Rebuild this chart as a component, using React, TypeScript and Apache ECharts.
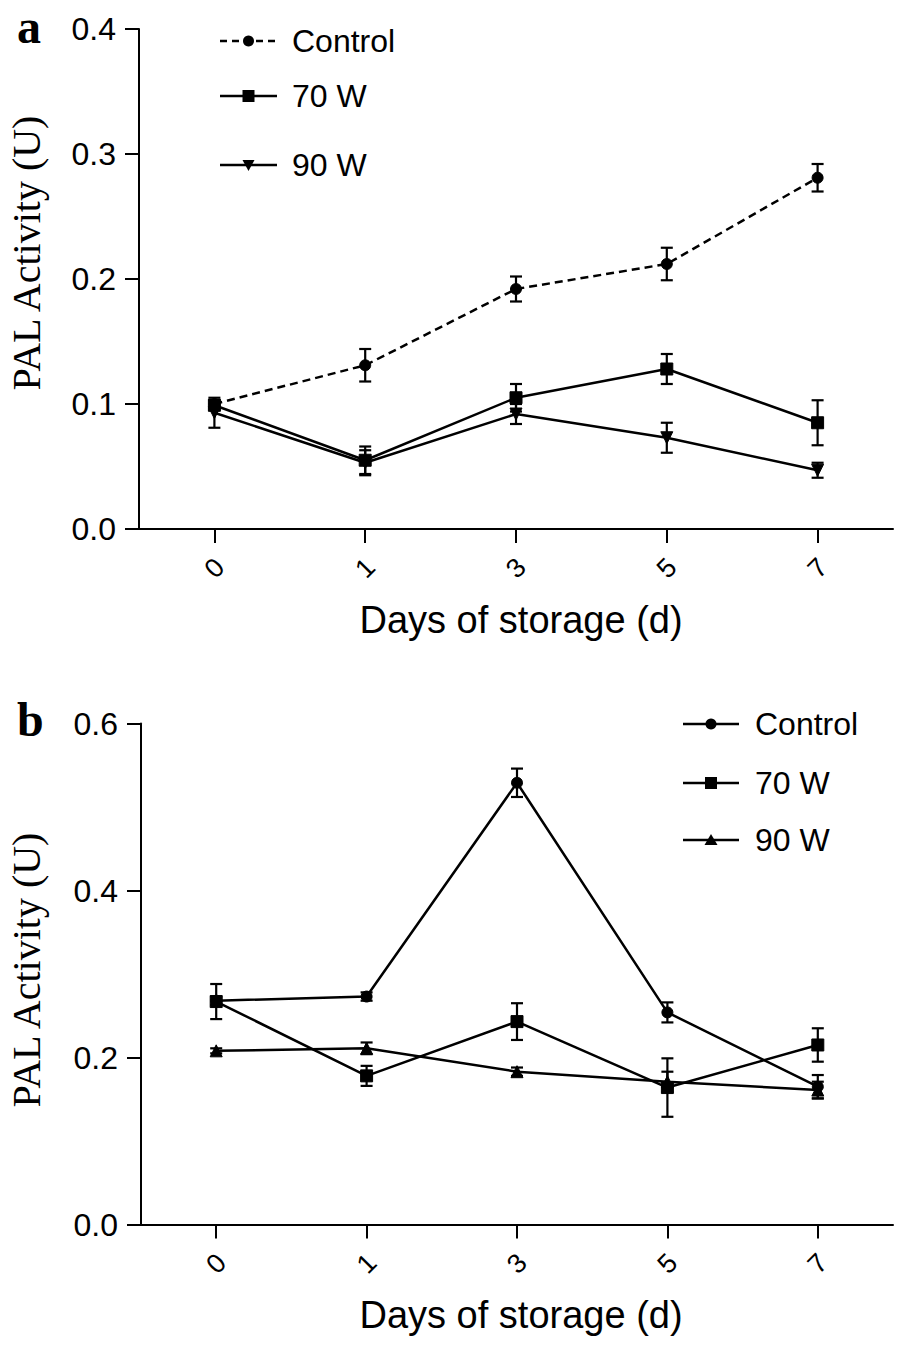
import React, { useEffect, useRef } from "react";
import * as echarts from "echarts";

const days = ["0", "1", "3", "5", "7"];

// Panel a
const controlA = [0.1, 0.131, 0.192, 0.212, 0.281];
const controlAErr = [0.003, 0.013, 0.01, 0.013, 0.011];
const w70A = [0.099, 0.055, 0.105, 0.128, 0.085];
const w70AErr = [0.004, 0.011, 0.011, 0.012, 0.018];
const w90A = [0.093, 0.053, 0.092, 0.073, 0.047];
const w90AErr = [0.012, 0.01, 0.008, 0.012, 0.006];
const yTicksA = { min: 0, max: 0.4, interval: 0.1 };

// Panel b
const controlB = [0.268, 0.273, 0.529, 0.254, 0.165];
const controlBErr = [0.005, 0.005, 0.017, 0.012, 0.014];
const w70B = [0.267, 0.178, 0.243, 0.164, 0.215];
const w70BErr = [0.021, 0.012, 0.022, 0.035, 0.02];
const w90B = [0.208, 0.211, 0.183, 0.171, 0.161];
const w90BErr = [0.003, 0.007, 0.005, 0.012, 0.01];
const yTicksB = { min: 0, max: 0.6, interval: 0.2 };

const SANS = "'Liberation Sans', Arial, Helvetica, sans-serif";
const SERIF = "'Liberation Serif', 'Times New Roman', serif";
const TICK = "'Liberation Sans Narrow', 'Liberation Sans', Arial, sans-serif";
const BLACK = "#000";

function errData(vals: number[], errs: number[]) {
  return vals.map((v, i) => [i, v - errs[i], v + errs[i]]);
}

function errSeries(name: string, vals: number[], errs: number[]) {
  return {
    type: "custom",
    name: name + " err",
    data: errData(vals, errs),
    encode: { x: 0, y: [1, 2] },
    z: 3,
    renderItem: (params: any, api: any) => {
      const x = api.value(0);
      const top = api.coord([x, api.value(2)]);
      const bot = api.coord([x, api.value(1)]);
      const w = 6;
      const st = { stroke: BLACK, lineWidth: 2.2 };
      return {
        type: "group",
        children: [
          { type: "line", shape: { x1: top[0], y1: top[1], x2: bot[0], y2: bot[1] }, style: st },
          { type: "line", shape: { x1: top[0] - w, y1: top[1], x2: top[0] + w, y2: top[1] }, style: st },
          { type: "line", shape: { x1: bot[0] - w, y1: bot[1], x2: bot[0] + w, y2: bot[1] }, style: st },
        ],
      };
    },
  };
}

function lineSeries(name: string, vals: number[], symbol: string, size: number, dashed: boolean, rotate = 0) {
  return {
    type: "line",
    name,
    data: vals,
    symbol,
    symbolSize: size,
    symbolRotate: rotate,
    showSymbol: true,
    z: 4,
    lineStyle: { color: BLACK, width: 2.5, type: dashed ? [8, 5] : "solid" },
    itemStyle: { color: BLACK, borderColor: BLACK },
  };
}

function legendItems(
  rows: { name: string; y: number; dashed: boolean; shape: string }[],
  x1: number,
  x2: number,
  tx: number
) {
  const out: any[] = [];
  const mx = (x1 + x2) / 2;
  rows.forEach((r) => {
    out.push({
      type: "line",
      shape: { x1, y1: r.y, x2, y2: r.y },
      style: { stroke: BLACK, lineWidth: 2.5, lineDash: r.dashed ? [7, 5] : null },
    });
    if (r.shape === "circle") {
      out.push({ type: "circle", shape: { cx: mx, cy: r.y, r: 5.5 }, style: { fill: BLACK } });
    } else if (r.shape === "rect") {
      out.push({ type: "rect", shape: { x: mx - 6, y: r.y - 6, width: 12, height: 12 }, style: { fill: BLACK } });
    } else if (r.shape === "tridown") {
      out.push({
        type: "polygon",
        shape: { points: [[mx - 6, r.y - 5], [mx + 6, r.y - 5], [mx, r.y + 6]] },
        style: { fill: BLACK },
      });
    } else {
      out.push({
        type: "polygon",
        shape: { points: [[mx - 6.5, r.y + 5], [mx + 6.5, r.y + 5], [mx, r.y - 6]] },
        style: { fill: BLACK },
      });
    }
    out.push({
      type: "text",
      x: tx,
      y: r.y,
      style: {
        text: r.name,
        fill: BLACK,
        font: `32px ${SANS}`,
        textAlign: "left",
        textVerticalAlign: "middle",
      },
    });
  });
  return out;
}

function makeOption(cfg: {
  grid: any;
  yt: { min: number; max: number; interval: number };
  series: any[];
  panel: string;
  panelY: number;
  yTitleY: number;
  xTitleY: number;
  legend: any[];
}) {
  return {
    animation: false,
    backgroundColor: "#fff",
    grid: cfg.grid,
    xAxis: {
      type: "category",
      data: days,
      boundaryGap: true,
      axisLine: { show: true, lineStyle: { color: BLACK, width: 2 } },
      axisTick: { show: true, alignWithLabel: true, length: 14, lineStyle: { color: BLACK, width: 2 } },
      axisLabel: {
        rotate: 45,
        align: "center",
        verticalAlign: "middle",
        margin: 39,
        color: BLACK,
        fontSize: 27,
        fontFamily: TICK,
      },
      splitLine: { show: false },
    },
    yAxis: {
      type: "value",
      min: cfg.yt.min,
      max: cfg.yt.max,
      interval: cfg.yt.interval,
      axisLine: { show: true, lineStyle: { color: BLACK, width: 2 } },
      axisTick: { show: true, length: 14, lineStyle: { color: BLACK, width: 2 } },
      axisLabel: {
        margin: 23,
        color: BLACK,
        fontSize: 32,
        fontFamily: SANS,
        formatter: (v: number) => v.toFixed(1),
      },
      splitLine: { show: false },
    },
    graphic: [
      {
        type: "text",
        x: 17,
        y: cfg.panelY,
        style: {
          text: cfg.panel,
          fill: BLACK,
          font: `bold 48px ${SERIF}`,
          textAlign: "left",
          textVerticalAlign: "middle",
        },
      },
      {
        type: "text",
        x: 26,
        y: cfg.yTitleY,
        rotation: Math.PI / 2,
        style: {
          text: "PAL Activity (U)",
          fill: BLACK,
          font: `40px ${SERIF}`,
          textAlign: "center",
          textVerticalAlign: "middle",
        },
      },
      {
        type: "text",
        x: 521,
        y: cfg.xTitleY,
        style: {
          text: "Days of storage (d)",
          fill: BLACK,
          font: `38px ${SANS}`,
          textAlign: "center",
          textVerticalAlign: "middle",
        },
      },
      ...cfg.legend,
    ],
    series: cfg.series,
  };
}

export default function App() {
  const refA = useRef<HTMLDivElement>(null);
  const refB = useRef<HTMLDivElement>(null);

  useEffect(() => {
    const chartA = echarts.init(refA.current!, null, { renderer: "svg" });
    const chartB = echarts.init(refB.current!, null, { renderer: "svg" });

    chartA.setOption(
      makeOption({
        grid: { left: 139, top: 29, width: 754, height: 500 },
        yt: yTicksA,
        panel: "a",
        panelY: 26,
        yTitleY: 253,
        xTitleY: 620,
        legend: legendItems(
          [
            { name: "Control", y: 41, dashed: true, shape: "circle" },
            { name: "70 W", y: 96, dashed: false, shape: "rect" },
            { name: "90 W", y: 165, dashed: false, shape: "tridown" },
          ],
          220,
          277,
          292
        ),
        series: [
          errSeries("Control", controlA, controlAErr),
          errSeries("70 W", w70A, w70AErr),
          errSeries("90 W", w90A, w90AErr),
          lineSeries("Control", controlA, "circle", 11, true),
          lineSeries("70 W", w70A, "rect", 12, false),
          lineSeries("90 W", w90A, "triangle", 12, false, 180),
        ],
      })
    );

    chartB.setOption(
      makeOption({
        grid: { left: 141, top: 51.5, width: 752, height: 501 },
        yt: yTicksB,
        panel: "b",
        panelY: 47,
        yTitleY: 298,
        xTitleY: 643,
        legend: legendItems(
          [
            { name: "Control", y: 52, dashed: false, shape: "circle" },
            { name: "70 W", y: 111, dashed: false, shape: "rect" },
            { name: "90 W", y: 168, dashed: false, shape: "triup" },
          ],
          683,
          739,
          755
        ),
        series: [
          errSeries("Control", controlB, controlBErr),
          errSeries("70 W", w70B, w70BErr),
          errSeries("90 W", w90B, w90BErr),
          lineSeries("Control", controlB, "circle", 11, false),
          lineSeries("70 W", w70B, "rect", 12, false),
          lineSeries("90 W", w90B, "triangle", 12, false),
        ],
      })
    );

    return () => {
      chartA.dispose();
      chartB.dispose();
    };
  }, []);

  return (
    <div style={{ position: "absolute", left: 0, top: 0, width: 898, height: 1345, background: "#fff" }}>
      <div ref={refA} style={{ position: "absolute", left: 0, top: 0, width: 898, height: 672 }} />
      <div ref={refB} style={{ position: "absolute", left: 0, top: 672, width: 898, height: 673 }} />
    </div>
  );
}
